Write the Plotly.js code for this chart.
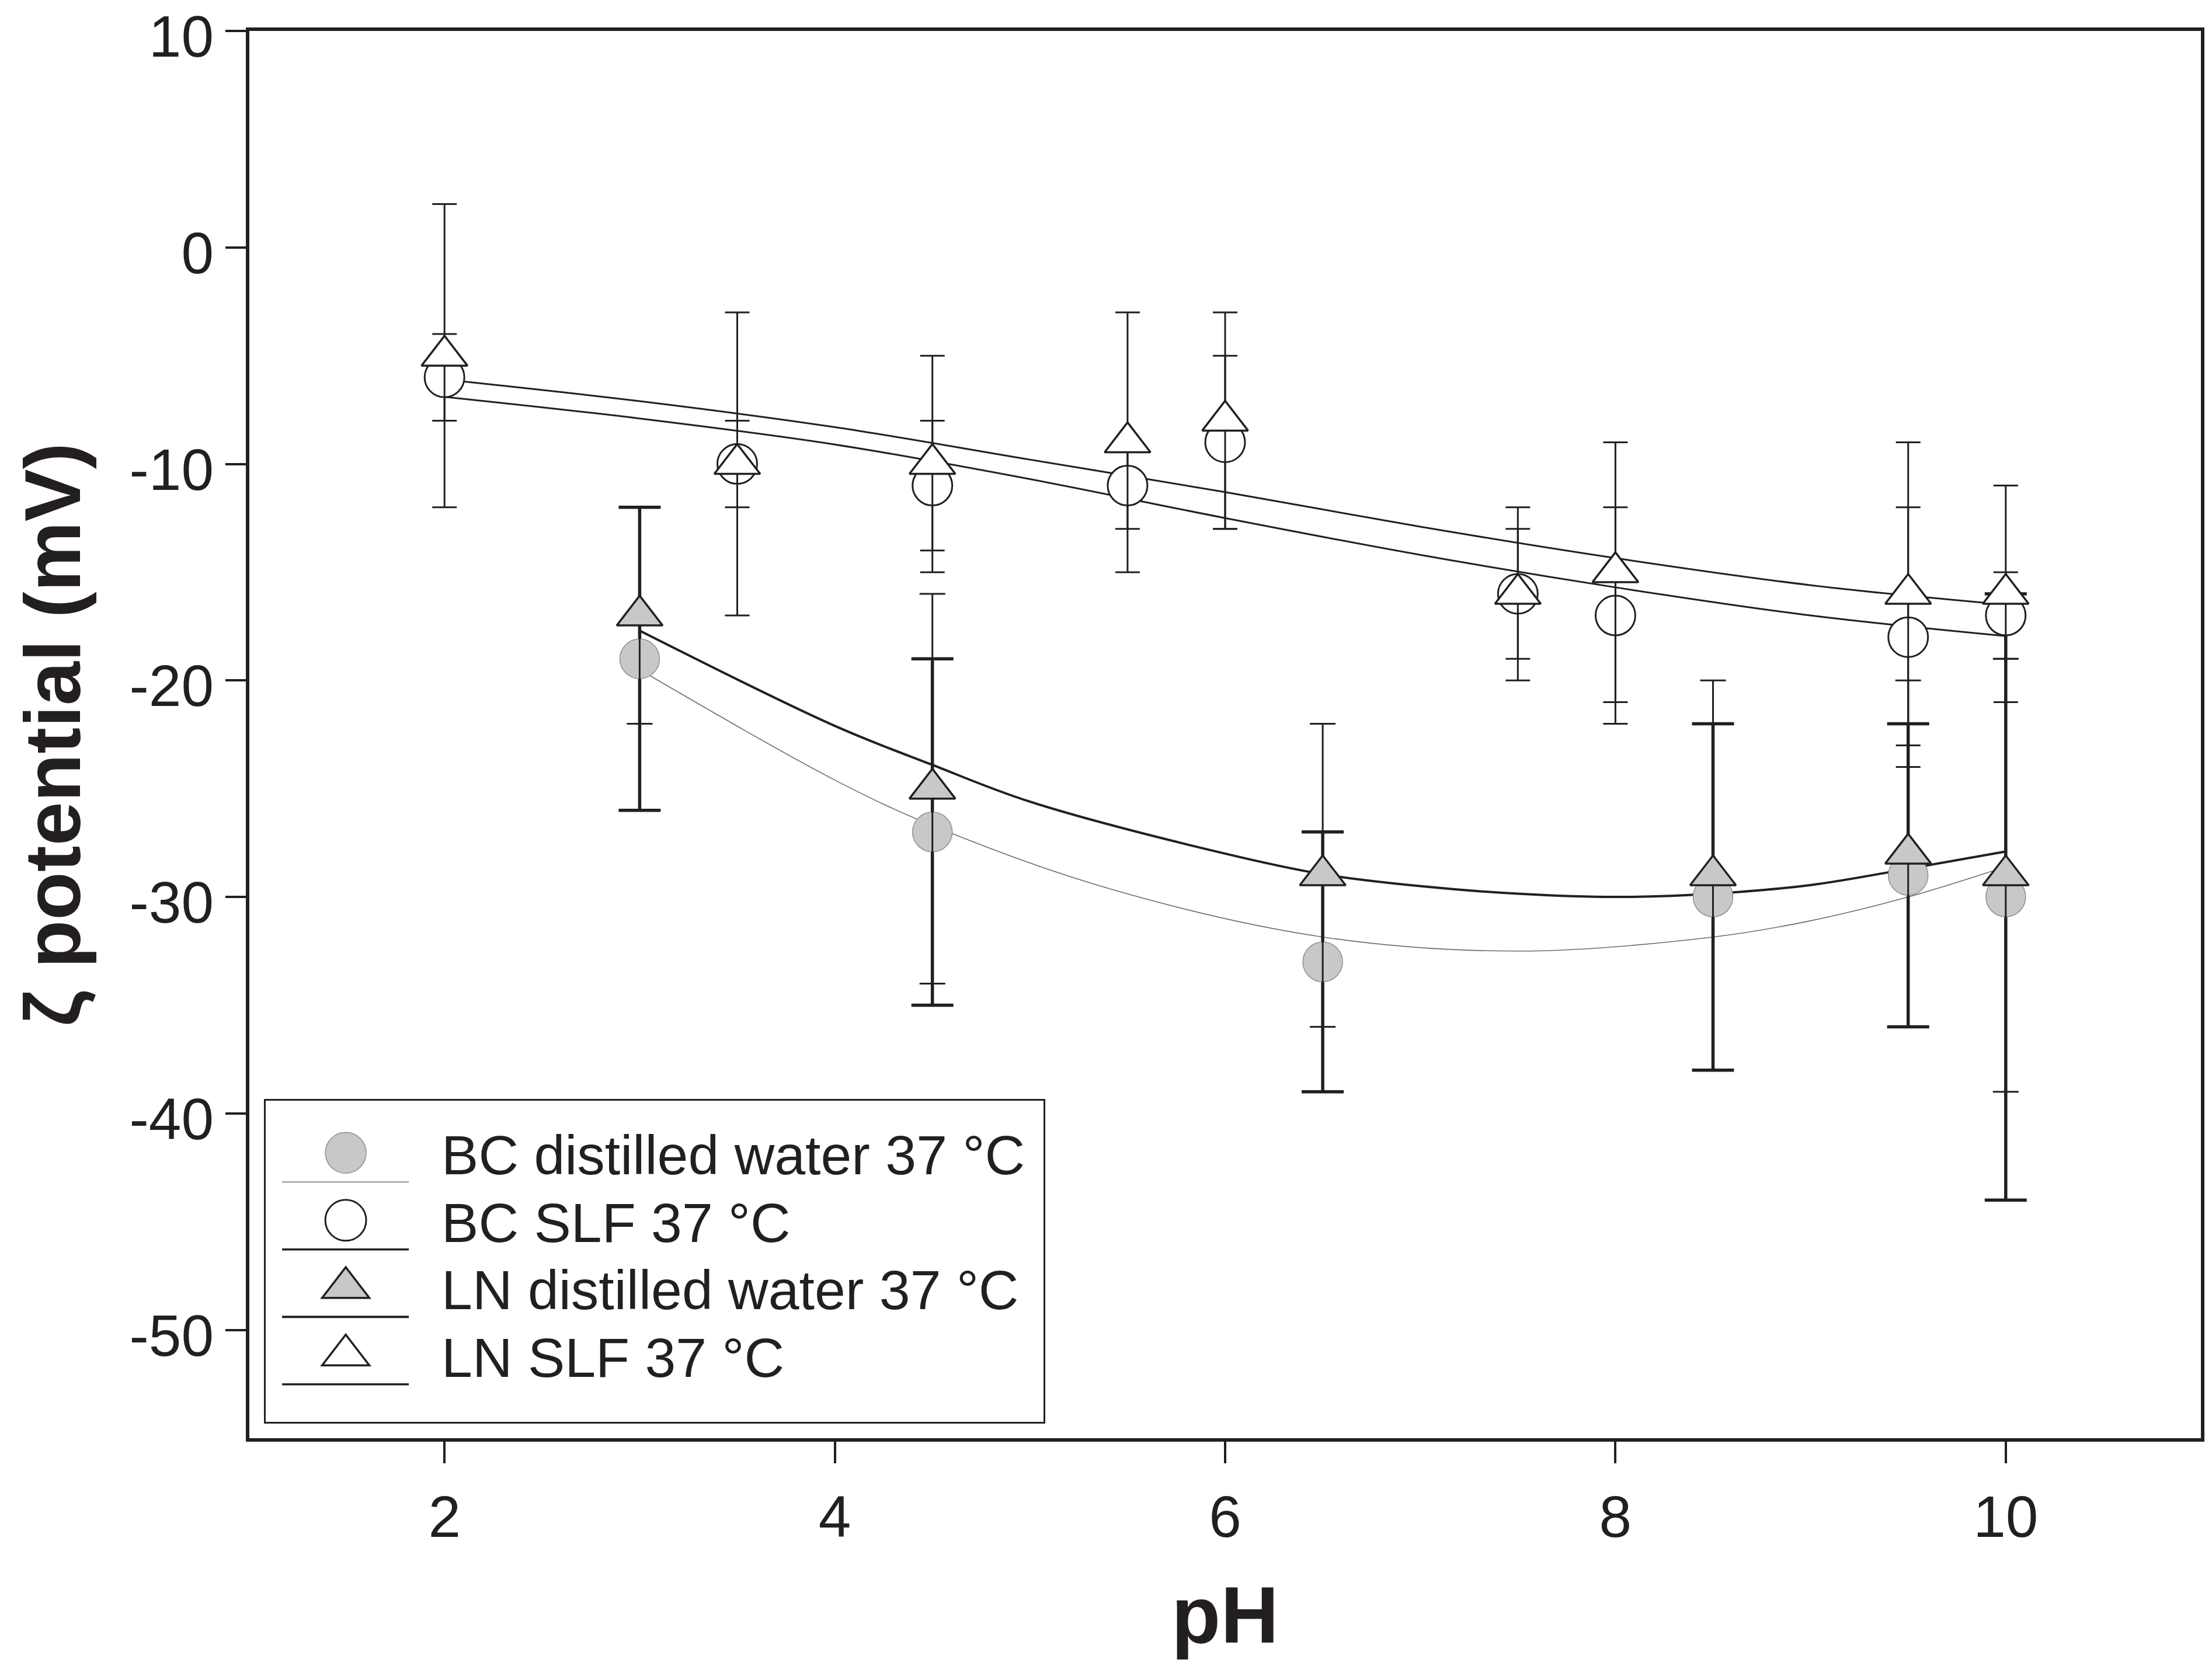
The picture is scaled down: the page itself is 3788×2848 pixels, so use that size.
<!DOCTYPE html>
<html>
<head>
<meta charset="utf-8">
<script src="https://cdn.plot.ly/plotly-3.0.1.min.js"></script>
<style>
  html, body { margin: 0; padding: 0; background: #ffffff; }
  #chart { width: 3788px; height: 2848px; }
</style>
</head>
<body>
<div id="chart"></div>
<script>
// ---------------- data ----------------
const seriesNames = ['BC distilled water 37 °C', 'BC SLF 37 °C', 'LN distilled water 37 °C', 'LN SLF 37 °C'];

const bcWaterPH   = [3, 4.5, 6.5, 8.5, 9.5, 10];
const bcWaterZeta = [-19, -27, -33, -30, -29, -30];
const bcWaterErr  = [7, 8, 6, 8, 7, 14];

const bcSlfPH   = [2, 3.5, 4.5, 5.5, 6, 7.5, 8, 9.5, 10];
const bcSlfZeta = [-6, -10, -11, -11, -9, -16, -17, -18, -17];
const bcSlfErr  = [2, 2, 3, 2, 4, 3, 5, 6, 2];

const lnWaterPH   = [3, 4.5, 6.5, 8.5, 9.5, 10];
const lnWaterZeta = [-17, -25, -29, -29, -28, -29];
const lnWaterErr  = [5, 9, 7, 9, 8, 10];

const lnSlfPH   = [2, 3.5, 4.5, 5.5, 6, 7.5, 8, 9.5, 10];
const lnSlfZeta = [-5, -10, -10, -9, -8, -16, -15, -16, -16];
const lnSlfErr  = [7, 7, 5, 6, 5, 4, 6, 7, 5];

// fitted curves
const bcWaterFitPH   = [3, 4, 4.5, 5.4, 6.5, 7.5, 8.5, 9, 9.5, 10];
const bcWaterFitZeta = [-19.5, -24.6, -26.7, -29.6, -31.85, -32.5, -31.85, -31.1, -30.0, -28.6];

const bcSlfFitPH   = [2, 3, 4, 5, 6, 7, 8, 9, 10];
const bcSlfFitZeta = [-6.9, -7.9, -9.1, -10.7, -12.5, -14.2, -15.7, -17.0, -17.95];

const lnWaterFitPH   = [3, 4, 4.5, 5, 6, 6.5, 7, 7.5, 8, 8.5, 9, 9.5, 10];
const lnWaterFitZeta = [-17.7, -22.1, -23.9, -25.6, -28.0, -28.95, -29.5, -29.85, -30.0, -29.85, -29.45, -28.7, -27.9];

const lnSlfFitPH   = [2, 3, 4, 5, 6, 7, 8, 9, 10];
const lnSlfFitZeta = [-6.1, -7.1, -8.3, -9.8, -11.3, -12.9, -14.35, -15.6, -16.5];

// axis ticks
const xTickVals = [2, 4, 6, 8, 10];
const xTickText = ['2', '4', '6', '8', '10'];
const yTickVals = [10, 0, -10, -20, -30, -40, -50];
const yTickText = ['10', '0', '-10', '-20', '-30', '-40', '-50'];

// ---------------- styling ----------------
const INK = '#231f20';
const GREY = '#c7c8ca';
const FIT_GREY = '#6d6d6d';
const FONT = 'Liberation Sans, Arial, Helvetica, sans-serif';

// interleave nulls so that "lines+markers" draws no connecting segments,
// but the legend still shows the series' line sample
function gapped(arr) {
  const out = [];
  arr.forEach((v, i) => { if (i) out.push(null); out.push(v); });
  return out;
}

function fitTrace(x, y, color, width) {
  return {
    type: 'scatter', mode: 'lines', x: x, y: y,
    line: { color: color, width: width, shape: 'spline', smoothing: 1 },
    showlegend: false, hoverinfo: 'skip'
  };
}

function dataTrace(name, x, y, err, marker, lineStyle, errStyle) {
  return {
    type: 'scatter', mode: 'lines+markers', name: name,
    x: gapped(x), y: gapped(y), connectgaps: false,
    line: lineStyle,
    marker: marker,
    error_y: Object.assign({ type: 'data', array: gapped(err), visible: true, color: INK }, errStyle)
  };
}

const traces = [
  fitTrace(bcWaterFitPH, bcWaterFitZeta, FIT_GREY, 1.6),
  fitTrace(bcSlfFitPH, bcSlfFitZeta, INK, 3),
  fitTrace(lnWaterFitPH, lnWaterFitZeta, INK, 4),
  fitTrace(lnSlfFitPH, lnSlfFitZeta, INK, 3),

  dataTrace(seriesNames[0], bcWaterPH, bcWaterZeta, bcWaterErr,
    { symbol: 'circle', size: 68, color: GREY, line: { color: '#8d8e90', width: 1.5 } },
    { color: FIT_GREY, width: 1.6 },
    { thickness: 5.5, width: 36 }),
  dataTrace(seriesNames[1], bcSlfPH, bcSlfZeta, bcSlfErr,
    { symbol: 'circle', size: 68, color: '#ffffff', line: { color: INK, width: 3 } },
    { color: INK, width: 3.5 },
    { thickness: 3, width: 21 }),
  dataTrace(seriesNames[2], lnWaterPH, lnWaterZeta, lnWaterErr,
    { symbol: 'triangle-up', size: 68, color: GREY, line: { color: INK, width: 3.5 } },
    { color: INK, width: 4 },
    { thickness: 3, width: 22 }),
  dataTrace(seriesNames[3], lnSlfPH, lnSlfZeta, lnSlfErr,
    { symbol: 'triangle-up', size: 68, color: '#ffffff', line: { color: INK, width: 3.5 } },
    { color: INK, width: 3.5 },
    { thickness: 3, width: 21 })
];

const layout = {
  width: 3788, height: 2848,
  paper_bgcolor: '#ffffff', plot_bgcolor: '#ffffff',
  margin: { l: 427, r: 19, t: 53, b: 385, pad: 0 },
  font: { family: FONT, color: INK },
  showlegend: true,
  xaxis: {
    range: [1, 11], tickvals: xTickVals, ticktext: xTickText,
    showgrid: false, zeroline: false,
    showline: true, linecolor: INK, linewidth: 6, mirror: true,
    ticks: 'outside', ticklen: 37, tickwidth: 4, tickcolor: INK,
    ticklabeloverflow: 'allow', ticklabelstandoff: 6,
    tickfont: { family: FONT, size: 100, color: INK },
    title: { text: '<b>pH</b>', font: { family: FONT, size: 138, color: INK }, standoff: 66 }
  },
  yaxis: {
    range: [-55, 10], tickvals: yTickVals, ticktext: yTickText,
    showgrid: false, zeroline: false,
    showline: true, linecolor: INK, linewidth: 6, mirror: true,
    ticks: 'outside', ticklen: 35, tickwidth: 4, tickcolor: INK,
    ticklabeloverflow: 'allow', ticklabelshift: 9,
    tickfont: { family: FONT, size: 100, color: INK },
    title: { text: '<b>ζ potential (mV)</b>', font: { family: FONT, size: 135, color: INK }, standoff: 40 }
  },
  legend: {
    x: 0.0075, y: 0.241, xanchor: 'left', yanchor: 'top',
    bgcolor: '#ffffff', bordercolor: INK, borderwidth: 3,
    font: { family: FONT, size: 95, color: INK },
    itemwidth: 217, tracegroupgap: 0
  }
};

// legend layout (SigmaPlot style: symbol with its line sample underneath)
const LEGEND_W = 1338, LEGEND_H = 556;
const LEGEND_ROW0 = 92, LEGEND_PITCH = 115.5;
const LEGEND_MARKER_X = 137, LEGEND_MARKER_SCALE = 70 / 16;
const LEGEND_LINE_X = 28, LEGEND_LINE_LEN = 217, LEGEND_LINE_DROP = 50;
const LEGEND_TEXT_X = 301;

function tweakLegend(gd) {
  const leg = gd.querySelector('.legend');
  if (!leg) return;
  const bg = leg.querySelector('rect.bg');
  if (bg) { bg.setAttribute('width', LEGEND_W - 3); bg.setAttribute('height', LEGEND_H - 3); }
  document.querySelectorAll('clipPath[id*="legend"] rect').forEach(function (r) {
    r.setAttribute('width', LEGEND_W); r.setAttribute('height', LEGEND_H);
  });
  leg.querySelectorAll('.traces').forEach(function (tr, i) {
    tr.setAttribute('transform', 'translate(3,' + (LEGEND_ROW0 + i * LEGEND_PITCH) + ')');
    tr.querySelectorAll('path.scatterpts').forEach(function (p) {
      p.setAttribute('transform', 'translate(' + LEGEND_MARKER_X + ',0) scale(' + LEGEND_MARKER_SCALE + ')');
      p.style.vectorEffect = 'non-scaling-stroke';
    });
    tr.querySelectorAll('.legendlines path').forEach(function (p) {
      p.setAttribute('d', 'M' + LEGEND_LINE_X + ',' + LEGEND_LINE_DROP + 'h' + LEGEND_LINE_LEN);
      p.removeAttribute('transform');
    });
    const t = tr.querySelector('text.legendtext');
    if (t) {
      t.setAttribute('x', LEGEND_TEXT_X);
      t.querySelectorAll('tspan[x]').forEach(function (s) { s.setAttribute('x', LEGEND_TEXT_X); });
    }
  });
}

Plotly.newPlot('chart', traces, layout, { staticPlot: true }).then(tweakLegend);
</script>
</body>
</html>
